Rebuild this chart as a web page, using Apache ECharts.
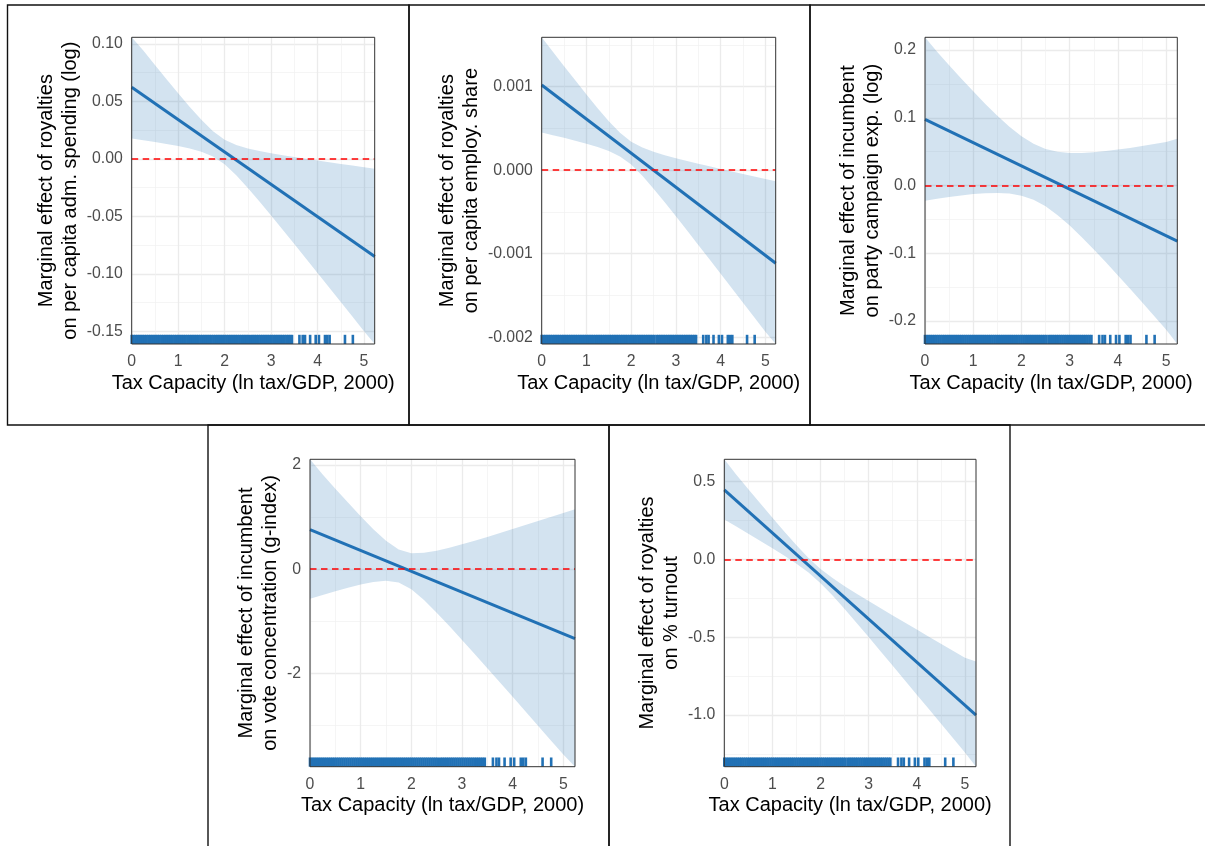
<!DOCTYPE html>
<html>
<head>
<meta charset="utf-8">
<script src="https://cdn.jsdelivr.net/npm/echarts@6/dist/echarts.min.js"></script>
<style>
html, body { margin: 0; padding: 0; background: #fff; }
#chart { width: 1205px; height: 846px; }
</style>
</head>
<body>
<div id="chart"></div>
<script>
// Marginal-effect panels: fitted line, 95% band, zero reference and rug of tax capacity
const FONT = '"Liberation Sans", Arial, Helvetica, sans-serif';
const BLUE = '#2171b5';
const X_MAX = 5.23;
const X_TITLE = 'Tax Capacity (ln tax/GDP, 2000)';

const xGrid = [0, 0.25, 0.5, 0.75, 1, 1.25, 1.5, 1.75, 2, 2.25, 2.5, 2.75, 3, 3.25, 3.5, 3.75, 4, 4.25, 4.5, 4.75, 5, 5.23];
const xTicks = [0, 1, 2, 3, 4, 5];
const xMinorTicks = [0.5, 1.5, 2.5, 3.5, 4.5];

// observed tax capacity values (rug)
const rugX = [
    0.00, 0.04, 0.08, 0.12, 0.16, 0.20, 0.24, 0.28, 0.32, 0.36, 0.40, 0.44, 0.48, 0.52, 0.56, 0.60,
    0.64, 0.68, 0.72, 0.76, 0.80, 0.84, 0.88, 0.92, 0.96, 1.00, 1.04, 1.08, 1.12, 1.16, 1.20, 1.24,
    1.28, 1.32, 1.36, 1.40, 1.44, 1.48, 1.52, 1.56, 1.60, 1.64, 1.68, 1.72, 1.76, 1.80, 1.84, 1.88,
    1.92, 1.96, 2.00, 2.04, 2.08, 2.12, 2.16, 2.20, 2.24, 2.28, 2.32, 2.36, 2.40, 2.44, 2.48, 2.52,
    2.57, 2.61, 2.65, 2.69, 2.73, 2.77, 2.81, 2.85, 2.89, 2.93, 2.97, 3.01, 3.05, 3.09, 3.13, 3.17,
    3.21, 3.25, 3.29, 3.33, 3.37, 3.41, 3.45,
    3.61, 3.68, 3.73, 3.84, 3.96, 4.03, 4.16, 4.21, 4.26, 4.59, 4.76
];

// panel 1: royalties -> per capita adm. spending (log)
const p1Fit = [0.0623, -0.0849];
const p1Upper = [0.1058, 0.0943, 0.0817, 0.0694, 0.0572, 0.0452, 0.0340, 0.0240, 0.0167, 0.0122, 0.0091,
    0.0069, 0.0049, 0.0032, 0.0017, 0.0001, -0.0014, -0.0029, -0.0044, -0.0058, -0.0072, -0.0085];
const p1Lower = [0.0178, 0.0163, 0.0147, 0.0130, 0.0112, 0.0090, 0.0062, 0.0020, -0.0047, -0.0142, -0.0253,
    -0.0371, -0.0493, -0.0616, -0.0741, -0.0867, -0.0992, -0.1118, -0.1244, -0.1370, -0.1498, -0.1610];
const p1Ticks = [-0.15, -0.10, -0.05, 0.00, 0.05, 0.10];

// panel 2: royalties -> per capita employ. share
const p2Fit = [0.00102, -0.001114];
const p2Upper = [0.00159, 0.001417, 0.001245, 0.001075, 0.000907, 0.000742, 0.000586, 0.000447, 0.000341, 0.000271, 0.000221,
    0.000180, 0.000143, 0.000110, 0.000078, 0.000046, 0.000015, -0.000016, -0.000047, -0.000076, -0.000106, -0.000134];
const p2Lower = [0.00045, 0.000419, 0.000387, 0.000353, 0.000317, 0.000278, 0.000230, 0.000165, 0.000067, -0.000067, -0.000221,
    -0.000384, -0.000551, -0.000722, -0.000894, -0.001066, -0.001239, -0.001412, -0.001585, -0.001760, -0.001934, -0.00208];
const p2Ticks = [-0.002, -0.001, 0.000, 0.001];

// panel 3: incumbent -> party campaign exp. (log)
const p3Fit = [0.0975, -0.0822];
const p3Upper = [0.2188, 0.1975, 0.1776, 0.1581, 0.1391, 0.1205, 0.1029, 0.0867, 0.0726, 0.0615, 0.0540,
    0.0498, 0.0480, 0.0481, 0.0491, 0.0508, 0.0530, 0.0555, 0.0583, 0.0612, 0.0643, 0.0690];
const p3Lower = [-0.0225, -0.0197, -0.0170, -0.0147, -0.0127, -0.0113, -0.0109, -0.0119, -0.0150, -0.0211, -0.0308,
    -0.0438, -0.0592, -0.0763, -0.0945, -0.1134, -0.1328, -0.1525, -0.1725, -0.1926, -0.2129, -0.2340];
const p3Ticks = [-0.2, -0.1, 0.0, 0.1, 0.2];

// panel 4: incumbent -> vote concentration (g-index)
const p4Fit = [0.762, -1.331];
const p4Upper = [2.110, 1.818, 1.547, 1.279, 1.017, 0.768, 0.545, 0.380, 0.309, 0.314, 0.355,
    0.413, 0.478, 0.549, 0.621, 0.696, 0.771, 0.847, 0.924, 1.001, 1.079, 1.151];
const p4Lower = [-0.568, -0.494, -0.423, -0.355, -0.293, -0.244, -0.221, -0.256, -0.385, -0.590, -0.833,
    -1.090, -1.356, -1.627, -1.899, -2.174, -2.449, -2.725, -3.002, -3.280, -3.557, -3.790];
const p4Ticks = [-2, 0, 2];

// panel 5: royalties -> % turnout
const p5Fit = [0.447, -1.0];
const p5Upper = [0.644, 0.5443, 0.452, 0.3599, 0.2686, 0.1785, 0.0913, 0.0098, -0.0606, -0.1194, -0.1713,
    -0.2199, -0.2672, -0.3137, -0.3597, -0.4053, -0.4508, -0.4962, -0.5415, -0.5867, -0.6318, -0.655];
const p5Lower = [0.257, 0.2113, 0.1654, 0.1191, 0.0720, 0.0237, -0.0273, -0.0842, -0.1522, -0.2318, -0.3183,
    -0.4079, -0.4990, -0.5909, -0.6833, -0.7759, -0.8688, -0.9618, -1.0549, -1.1479, -1.2412, -1.332];
const p5Ticks = [-1.0, -0.5, 0.0, 0.5];

const panels = [
    { yTitle: 'Marginal effect of royalties\non per capita adm. spending (log)', fit: p1Fit, upper: p1Upper, lower: p1Lower, ticks: p1Ticks, digits: 2,
      box: { left: 131.7, top: 37.3, width: 243, height: 306.7 }, nameGap: 40 },
    { yTitle: 'Marginal effect of royalties\non per capita employ. share', fit: p2Fit, upper: p2Upper, lower: p2Lower, ticks: p2Ticks, digits: 3,
      box: { left: 541.7, top: 37.3, width: 234, height: 306.7 }, nameGap: 51 },
    { yTitle: 'Marginal effect of incumbent\non party campaign exp. (log)', fit: p3Fit, upper: p3Upper, lower: p3Lower, ticks: p3Ticks, digits: 1,
      box: { left: 925, top: 37.3, width: 252.3, height: 306.7 }, nameGap: 32 },
    { yTitle: 'Marginal effect of incumbent\non vote concentration (g-index)', fit: p4Fit, upper: p4Upper, lower: p4Lower, ticks: p4Ticks, digits: 0,
      box: { left: 310, top: 459.3, width: 265, height: 307.4 }, nameGap: 21 },
    { yTitle: 'Marginal effect of royalties\non % turnout', fit: p5Fit, upper: p5Upper, lower: p5Lower, ticks: p5Ticks, digits: 1,
      box: { left: 724.3, top: 459.3, width: 251.7, height: 307.4 }, nameGap: 35 }
];

// outer frames around each panel
const frames = [
    [7.5, 5, 401.5, 420], [409, 5, 401, 420], [810, 5, 400, 420],
    [208, 425, 401, 425], [609, 425, 401, 425]
];

const grid = [], xAxis = [], yAxis = [], series = [], graphic = [];

frames.forEach(f => {
    graphic.push({
        type: 'rect', silent: true, z: 100,
        shape: { x: f[0], y: f[1], width: f[2], height: f[3] },
        style: { fill: 'none', stroke: '#111', lineWidth: 1.4 }
    });
});

const labelStyle = { color: '#4d4d4d', fontSize: 15.8, fontFamily: FONT };
const titleStyle = { color: '#000', fontSize: 20, fontFamily: FONT };

panels.forEach((p, i) => {
    const yMin = Math.min(...p.lower);
    const yMax = Math.max(...p.upper);
    const step = p.ticks[1] - p.ticks[0];
    const yMinor = [p.ticks[0] - step / 2].concat(p.ticks.map(t => t + step / 2))
        .filter(v => v > yMin && v < yMax);

    grid.push(Object.assign({ containLabel: false }, p.box));
    graphic.push({
        type: 'rect', silent: true, z: 100,
        shape: { x: p.box.left, y: p.box.top, width: p.box.width, height: p.box.height },
        style: { fill: 'none', stroke: '#333', lineWidth: 1 }
    });

    xAxis.push({
        gridIndex: i, type: 'value', min: 0, max: X_MAX,
        axisLine: { show: false },
        axisTick: { show: false, customValues: xTicks },
        axisLabel: Object.assign({ customValues: xTicks, margin: 10 }, labelStyle),
        splitLine: { show: true, lineStyle: { color: '#ebebeb', width: 1.3 } },
        name: X_TITLE, nameLocation: 'middle', nameGap: 29,
        nameTextStyle: Object.assign({ lineHeight: 20 }, titleStyle)
    });
    xAxis.push({
        gridIndex: i, type: 'value', min: 0, max: X_MAX,
        axisLine: { show: false },
        axisTick: { show: false, customValues: xMinorTicks },
        axisLabel: { show: false },
        splitLine: { show: true, lineStyle: { color: '#f1f1f1', width: 0.7 } }
    });
    yAxis.push({
        gridIndex: i, type: 'value', min: yMin, max: yMax, position: 'left',
        axisLine: { show: false },
        axisTick: { show: false, customValues: p.ticks },
        axisLabel: Object.assign({ customValues: p.ticks, margin: 9, formatter: v => v.toFixed(p.digits) }, labelStyle),
        splitLine: { show: true, lineStyle: { color: '#ebebeb', width: 1.3 } },
        name: p.yTitle, nameLocation: 'middle', nameRotate: 90, nameGap: p.nameGap,
        nameTextStyle: Object.assign({ lineHeight: 24.5, align: 'center' }, titleStyle)
    });
    yAxis.push({
        gridIndex: i, type: 'value', min: yMin, max: yMax, position: 'left',
        axisLine: { show: false },
        axisTick: { show: false, customValues: yMinor },
        axisLabel: { show: false },
        splitLine: { show: true, lineStyle: { color: '#f1f1f1', width: 0.7 } }
    });

    const xi = 2 * i, yi = 2 * i;
    // confidence band: polygon along upper bound, back along lower bound
    series.push({
        type: 'custom', xAxisIndex: xi, yAxisIndex: yi, silent: true, z: 2, clip: true,
        data: [[0, 0]],
        renderItem: (params, api) => {
            const top = xGrid.map((x, k) => api.coord([x, p.upper[k]]));
            const bottom = xGrid.map((x, k) => api.coord([x, p.lower[k]])).reverse();
            return {
                type: 'polygon',
                shape: { points: top.concat(bottom) },
                style: { fill: 'rgba(33,113,181,0.2)' }
            };
        },
        markLine: {
            silent: true, symbol: ['none', 'none'], label: { show: false },
            lineStyle: { color: '#ff0000', width: 1.6, type: [6.5, 4.5] },
            data: [{ yAxis: 0 }]
        }
    });
    // fitted marginal effect
    series.push({
        type: 'line', xAxisIndex: xi, yAxisIndex: yi, silent: true, z: 4,
        symbol: 'none', lineStyle: { color: BLUE, width: 3 },
        data: [[0, p.fit[0]], [X_MAX, p.fit[1]]]
    });
    // rug along the bottom of the panel
    series.push({
        type: 'custom', xAxisIndex: xi, yAxisIndex: yi, silent: true, z: 5,
        data: rugX.map(x => [x, 0]),
        renderItem: (params, api) => {
            const pt = api.coord([api.value(0), 0]);
            const cs = params.coordSys;
            const bottom = cs.y + cs.height;
            return {
                type: 'line',
                shape: { x1: pt[0], y1: bottom, x2: pt[0], y2: bottom - cs.height * 0.03 },
                style: { stroke: BLUE, lineWidth: 2.6 }
            };
        }
    });
});

const chart = echarts.init(document.getElementById('chart'), null, { renderer: 'canvas' });
chart.setOption({
    backgroundColor: '#fff',
    animation: false,
    textStyle: { fontFamily: FONT },
    grid, xAxis, yAxis, series, graphic
});
</script>
</body>
</html>
